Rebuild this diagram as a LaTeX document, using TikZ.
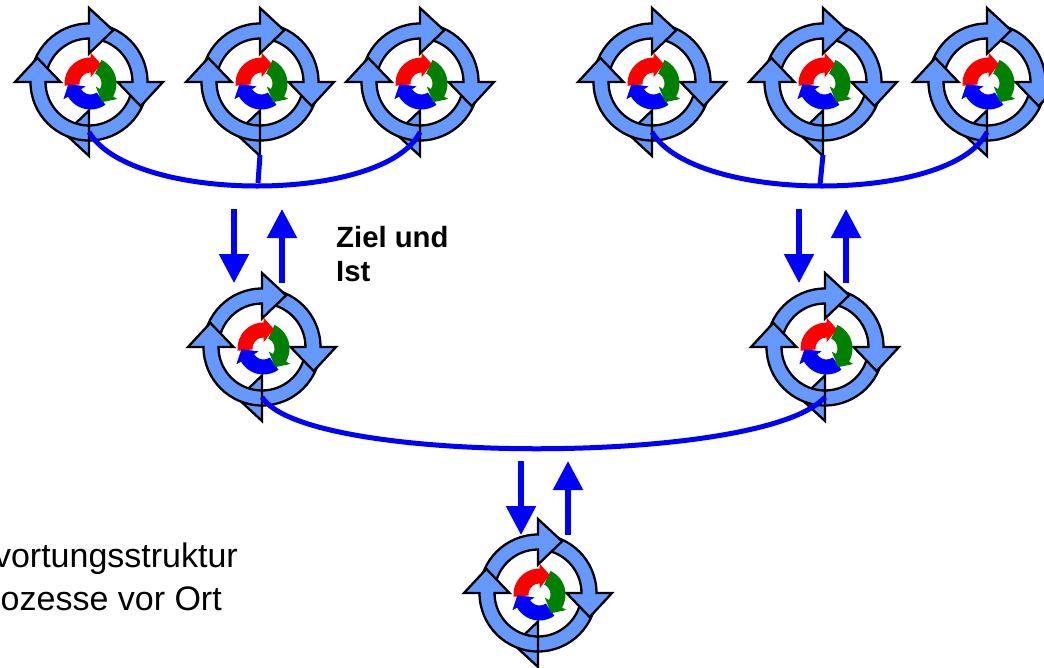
\documentclass[tikz,border=0pt]{standalone}
\usepackage{fontspec}
\setmainfont{Liberation Sans}
\usetikzlibrary{arrows.meta,calc}
\definecolor{ringblue}{RGB}{102,153,255}
\definecolor{cyclegreen}{RGB}{0,128,0}
\tikzset{
  ringpart/.style={fill=ringblue,draw=black,line width=2.3pt,line join=miter,miter limit=10},
  link/.style={draw=blue,line width=5pt},
  flow/.style={draw=blue,fill=blue,line width=5.4pt,-{Triangle[length=29pt,width=29pt]}},
  label/.style={font=\fontsize{34}{40}\selectfont,inner sep=0pt},
  boldlabel/.style={font=\fontsize{29.3}{35}\selectfont\bfseries,inner sep=0pt},
}
\newcommand{\ringarrow}[1]{%
  \path[ringpart,rotate=#1] (90:58.5) arc[start angle=90,end angle=180,radius=58.5]
    -- (180:43.5) arc[start angle=180,end angle=90,radius=43.5]
    -- (90:28.5) -- (65:57) -- (90:74) -- cycle;}
\newcommand{\smallarrow}[2]{%
  \fill[#1,rotate=#2] (90:26) arc[start angle=90,end angle=185,radius=26]
    -- (185:11) arc[start angle=185,end angle=90,radius=11]
    -- (90:6) -- (62:22) -- (90:31) -- cycle;}
\newcommand{\smallhead}[2]{%
  \fill[#1,rotate=#2] (90:6) -- (62:22) -- (90:31) -- cycle;}
\newcommand{\cycleicon}[3]{%
  \coordinate (#1) at (#2,#3);
  \coordinate (#1-foot) at (#2,#3+50);
  \begin{scope}[shift={(#2,#3)},x=1pt,y=1pt]
    \ringarrow{180}\ringarrow{-90}\ringarrow{0}\ringarrow{90}
    \begin{scope}[shift={(1.5,-1.5)}]
      \smallarrow{blue}{120}\smallarrow{cyclegreen}{-120}\smallarrow{red}{0}\smallhead{blue}{120}
    \end{scope}
  \end{scope}}
\begin{document}
\begin{tikzpicture}[x=1pt,y=-1pt]
\useasboundingbox (0,0) rectangle (1044,667);
\fill[white] (0,0) rectangle (1044,667);
\cycleicon{a1}{89}{82}\cycleicon{a2}{260}{82}\cycleicon{a3}{420}{82}
\cycleicon{b1}{652}{82}\cycleicon{b2}{823}{82}\cycleicon{b3}{987}{82}
\cycleicon{m1}{262}{347}\cycleicon{m2}{825}{347}
\cycleicon{r}{538}{593}
% links
\draw[link] (a1-foot) .. controls +(42,72) and +(-35,72) .. (a3-foot);
\draw[link] (b1-foot) .. controls +(42,72) and +(-35,72) .. (b3-foot);
\draw[link] (m1-foot) .. controls +(42,69) and +(-60,69) .. (m2-foot);
\coordinate (a2t) at (258,183);
\coordinate (b2t) at (820,185);
\draw[link] ($(a2-foot)+(0,23)$) -- (a2t);
\draw[link] ($(b2-foot)+(0,23)$) -- (b2t);
% flows
\foreach \n/\dx/\dy/\ux in {p/234/209/282,q/799/209/846,s/521/461/568}{
  \coordinate (\n-d0) at (\dx,\dy);
  \coordinate (\n-d1) at (\dx,\dy+74);
  \coordinate (\n-u0) at (\ux,\dy+74);
  \coordinate (\n-u1) at (\ux,\dy);
  \draw[flow] (\n-d0) -- (\n-d1);
  \draw[flow] (\n-u0) -- (\n-u1);
}
\node[boldlabel,anchor=west] (z1) at (336,237) {Ziel und};
\node[boldlabel,anchor=west] (z2) at (336,272) {Ist};
\node[label,anchor=base east] (t1) at (238,567) {vortungsstruktur};
\node[label,anchor=base east] (t2) at (222,610) {ozesse vor Ort};
\end{tikzpicture}
\end{document}
